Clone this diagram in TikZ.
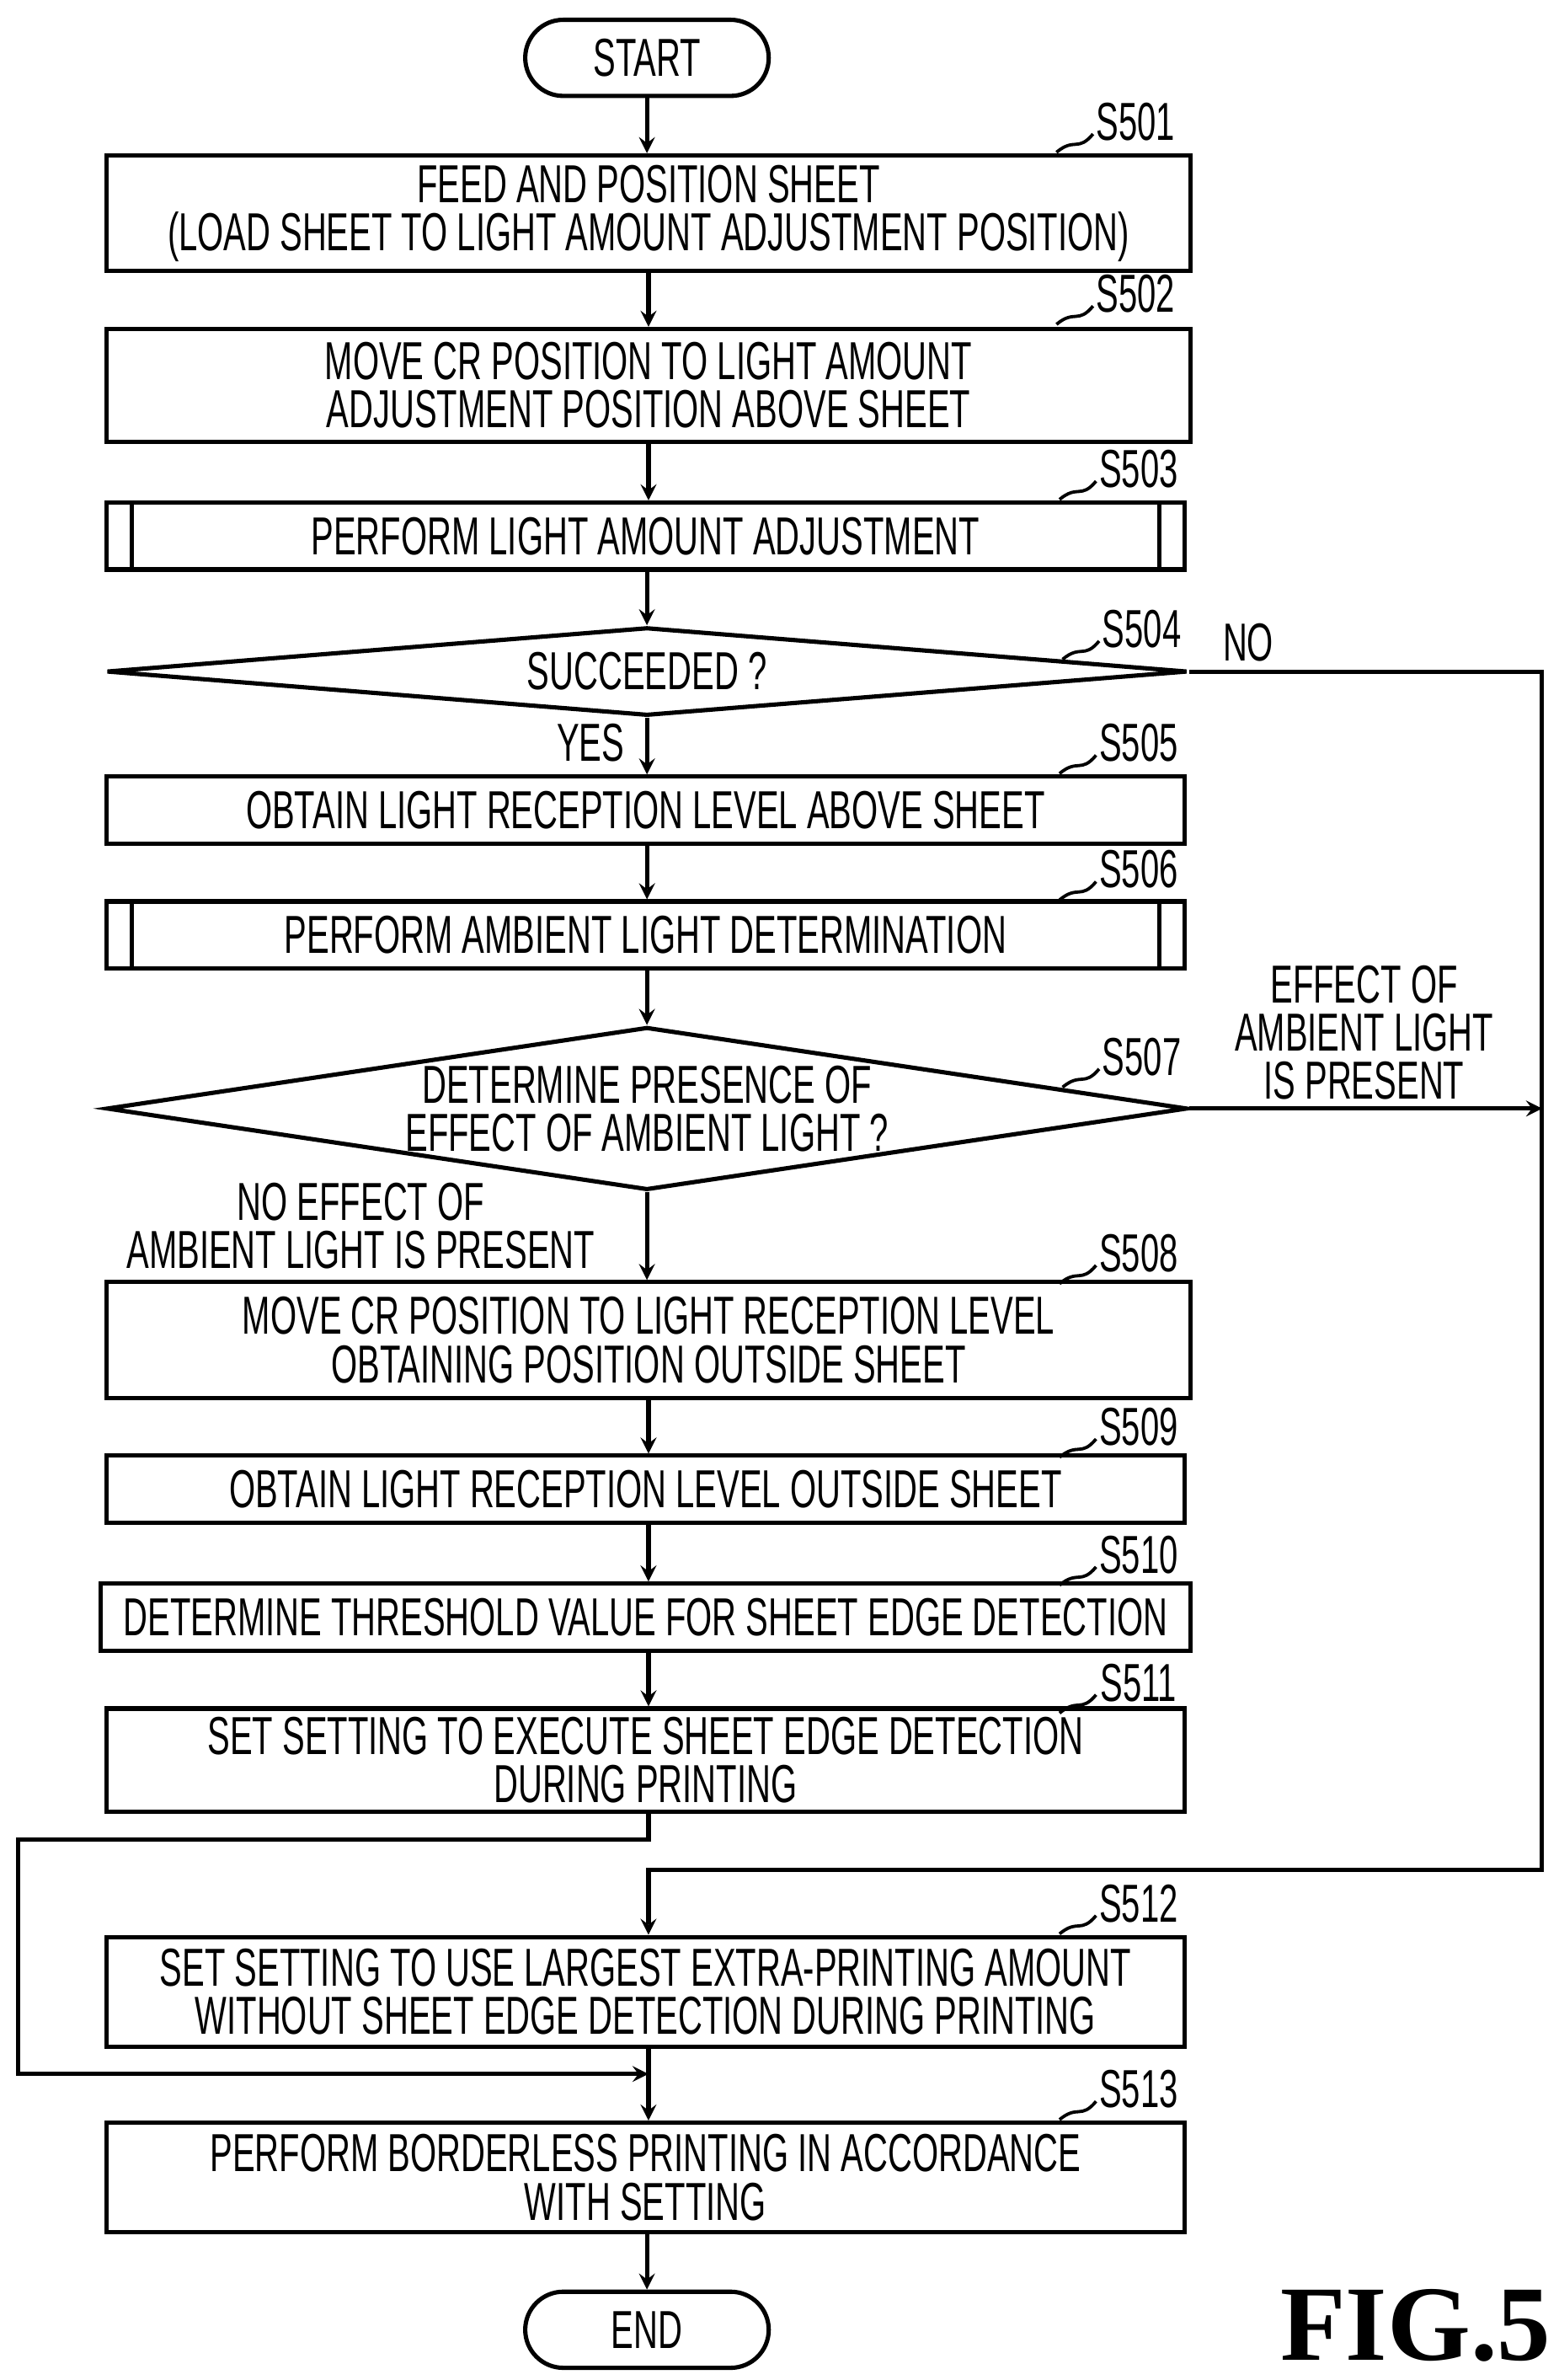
\documentclass[tikz,border=0pt]{standalone}
\usepackage{fontspec}
\setmainfont{Liberation Sans}[FakeStretch=0.63]
\newfontfamily\figfont{Liberation Serif}
\usetikzlibrary{arrows,shapes,positioning}
\tikzstyle{arrow} = [line width=1.6pt,->,>=stealth]
\tikzstyle{proc} = [rectangle, draw, line width=1.6pt, minimum width=14.16cm, align=center, font=\fontsize{20}{18}\selectfont, inner sep=0pt]
\tikzstyle{term} = [rectangle, rounded corners=0.5cm, draw, line width=1.6pt, minimum width=3.2cm, minimum height=1cm, font=\fontsize{20}{18}\selectfont]
\tikzstyle{decision} = [diamond, draw, line width=1.6pt, inner sep=0pt, minimum width=14.2cm]
\tikzstyle{lbl} = [align=center, font=\fontsize{20}{18}\selectfont, inner sep=0pt]
\tikzstyle{steplbl} = [font=\fontsize{20}{18}\selectfont, inner sep=0pt]
\newcommand{\stepmark}[3]{%
  \node[steplbl] at (#1,#2) {#3};
  \draw[line width=1.2pt] (#1-52,#2+20) .. controls (#1-40,#2+10) and (#1-38,#2+20) .. (#1-28,#2+8);}
\begin{document}
\begin{tikzpicture}[x=0.02cm, y=-0.02cm, line width=1.6pt]
\useasboundingbox (0,0) rectangle (1024,1563);
% terminals and steps
\node (start) [term] at (425,38) {START};
\node (s501) [proc, minimum width=14.24cm, minimum height=1.52cm] at (426,140) {FEED AND POSITION SHEET\\(LOAD SHEET TO LIGHT AMOUNT ADJUSTMENT POSITION)};
\node (s502) [proc, minimum width=14.24cm, minimum height=1.48cm] at (426,253) {MOVE CR POSITION TO LIGHT AMOUNT\\ADJUSTMENT POSITION ABOVE SHEET};
\node (s503) [proc, minimum height=0.88cm] at (424,352) {PERFORM LIGHT AMOUNT ADJUSTMENT};
\node (s504) [decision, minimum height=1.16cm] at (425,441) {};
\node[lbl] at (425,441) {SUCCEEDED ?};
\node (s505) [proc, minimum height=0.88cm] at (424,532) {OBTAIN LIGHT RECEPTION LEVEL ABOVE SHEET};
\node (s506) [proc, minimum height=0.88cm] at (424,614) {PERFORM AMBIENT LIGHT DETERMINATION};
\node (s507) [decision, minimum height=2.14cm] at (425,728) {};
\node[lbl] at (425,728) {DETERMINE PRESENCE OF\\EFFECT OF AMBIENT LIGHT ?};
\node (s508) [proc, minimum width=14.24cm, minimum height=1.52cm] at (426,880) {MOVE CR POSITION TO LIGHT RECEPTION LEVEL\\OBTAINING POSITION OUTSIDE SHEET};
\node (s509) [proc, minimum height=0.88cm] at (424,978) {OBTAIN LIGHT RECEPTION LEVEL OUTSIDE SHEET};
\node (s510) [proc, minimum height=0.88cm, inner xsep=0.3cm] at (424,1062) {DETERMINE THRESHOLD VALUE FOR SHEET EDGE DETECTION};
\node (s511) [proc, minimum height=1.36cm] at (424,1156) {SET SETTING TO EXECUTE SHEET EDGE DETECTION\\DURING PRINTING};
\node (s512) [proc, minimum height=1.44cm] at (424,1308) {SET SETTING TO USE LARGEST EXTRA-PRINTING AMOUNT\\WITHOUT SHEET EDGE DETECTION DURING PRINTING};
\node (s513) [proc, minimum height=1.44cm] at (424,1430) {PERFORM BORDERLESS PRINTING IN ACCORDANCE\\WITH SETTING};
\node (end) [term] at (425,1530) {END};

% subprocess bars
\foreach \n in {s503,s506} {
  \draw ([xshift=0.36cm]\n.north west) -- ([xshift=0.36cm]\n.south west);
  \draw ([xshift=-0.36cm]\n.north east) -- ([xshift=-0.36cm]\n.south east);
}

% step numbers
\stepmark{746}{80}{S501}
\stepmark{746}{193}{S502}
\stepmark{748}{308}{S503}
\stepmark{750}{413}{S504}
\stepmark{748}{488}{S505}
\stepmark{748}{571}{S506}
\stepmark{750}{694}{S507}
\stepmark{748}{823}{S508}
\stepmark{748}{937}{S509}
\stepmark{748}{1021}{S510}
\stepmark{748}{1105}{S511}
\stepmark{748}{1250}{S512}
\stepmark{748}{1372}{S513}

% main flow
\draw[arrow] (start) -- (start |- s501.north);
\draw[arrow] (s501) -- (s501 |- s502.north);
\draw[arrow] (s502) -- (s502 |- s503.north);
\draw[arrow] (s503.south -| s504) -- (s504.north);
\draw[arrow] (s504.south) -- (s504 |- s505.north);
\draw[arrow] (s505.south -| s504) -- (s504 |- s506.north);
\draw[arrow] (s506.south -| s504) -- (s507.north);
\draw[arrow] (s507.south) -- (s507 |- s508.north);
\draw[arrow] (s508) -- (s508 |- s509.north);
\draw[arrow] (s509.south -| s508) -- (s508 |- s510.north);
\draw[arrow] (s510.south -| s508) -- (s508 |- s511.north);
\draw[arrow] (s512.south -| s508) -- (s508 |- s513.north);
\draw[arrow] (s513.south -| end) -- (end.north);

% branches
\coordinate (noright) at (1013,441);
\coordinate (join) at (1013,1228);
\draw[arrow] (s504.east) -- (noright) -- (join) -- (join -| s508) -- (s508 |- s512.north);
\draw[arrow] (s507.east) -- (s507.east -| noright);
\coordinate (bypass) at (12,1208);
\draw[arrow] (s511.south -| s508) -- (bypass -| s508) -- (bypass) -- (12,1362) -- (s508 |- 0,1362);

% branch labels
\node[lbl] at (388,488) {YES};
\node[lbl] at (820,422) {NO};
\node[lbl] at (896,678) {EFFECT OF\\AMBIENT LIGHT\\IS PRESENT};
\node[lbl] at (237,805) {NO EFFECT OF\\AMBIENT LIGHT IS PRESENT};
\node[inner sep=0pt, font=\figfont\bfseries\fontsize{40}{40}\selectfont] at (930,1527) {FIG.5};
\end{tikzpicture}
\end{document}
